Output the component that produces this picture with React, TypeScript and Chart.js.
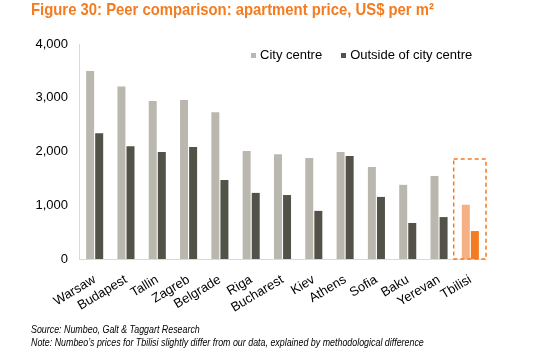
import React, { useEffect, useRef } from "react";
import { Chart, registerables } from "chart.js";

Chart.register(...registerables);

const categories = ["Warsaw", "Budapest", "Tallin", "Zagreb", "Belgrade", "Riga", "Bucharest", "Kiev", "Athens", "Sofia", "Baku", "Yerevan", "Tbilisi"];
const cityCentre = [3500, 3210, 2940, 2960, 2730, 2010, 1950, 1880, 1990, 1710, 1380, 1545, 1010];
const outsideCentre = [2340, 2100, 1990, 2085, 1470, 1230, 1190, 895, 1915, 1155, 670, 780, 520];
const yMin = 0;
const yMax = 4000;
const yStep = 1000;
const highlightCategory = "Tbilisi";
const highlightTop = 1860;

const seriesNames = ["City centre", "Outside of city centre"];
const titleText = "Figure 30: Peer comparison: apartment price, US$ per m\u00B2";
const sourceText = "Source: Numbeo, Galt & Taggart Research";
const noteText = "Note: Numbeo\u2019s prices for Tbilisi slightly differ from our data, explained by methodological difference";

const CITY = "#BAB8AE";
const OUTSIDE = "#535248";
const CITY_HL = "#F5B183";
const OUTSIDE_HL = "#F47B20";
const ORANGE = "#F47B20";

const highlightBox = {
  id: "highlightBox",
  afterDatasetsDraw(chart: any) {
    const xs = chart.scales.x;
    const ys = chart.scales.y;
    const idx = categories.indexOf(highlightCategory);
    const cx = xs.getPixelForValue(idx);
    const half = (xs.getPixelForValue(1) - xs.getPixelForValue(0)) / 2;
    const top = ys.getPixelForValue(highlightTop);
    const bottom = ys.getPixelForValue(0);
    const ctx = chart.ctx;
    ctx.save();
    ctx.strokeStyle = ORANGE;
    ctx.lineWidth = 1.5;
    ctx.setLineDash([4, 3]);
    ctx.strokeRect(cx - half - 1, top, half * 2 + 1, bottom - top);
    ctx.restore();
  },
};

export default function App() {
  const ref = useRef<HTMLCanvasElement | null>(null);

  useEffect(() => {
    if (!ref.current) return;
    const idx = categories.indexOf(highlightCategory);
    const chart = new Chart(ref.current, {
      type: "bar",
      data: {
        labels: categories,
        datasets: [
          {
            label: seriesNames[0],
            data: cityCentre,
            backgroundColor: categories.map((_, i) => (i === idx ? CITY_HL : CITY)),
            categoryPercentage: 0.58,
            barPercentage: 0.88,
          },
          {
            label: seriesNames[1],
            data: outsideCentre,
            backgroundColor: categories.map((_, i) => (i === idx ? OUTSIDE_HL : OUTSIDE)),
            categoryPercentage: 0.58,
            barPercentage: 0.88,
          },
        ],
      },
      options: {
        responsive: false,
        animation: false,
        devicePixelRatio: 1,
        layout: { padding: { top: 44, right: 53, bottom: 39, left: 0 } },
        plugins: { legend: { display: false }, tooltip: { enabled: false } },
        scales: {
          x: {
            grid: { display: false },
            border: { display: true, color: "#D9D9D9", width: 1 },
            ticks: {
              minRotation: 31,
              maxRotation: 31,
              autoSkip: false,
              color: "#000",
              padding: 5,
              font: { family: "'Liberation Sans', Arial, sans-serif", size: 13 },
            },
            afterFit(s: any) {
              s.height = 60;
            },
          },
          y: {
            min: yMin,
            max: yMax,
            grid: { display: false, drawTicks: false },
            border: { display: true, color: "#D9D9D9", width: 1 },
            ticks: {
              stepSize: yStep,
              color: "#000",
              padding: 11,
              font: { family: "'Liberation Sans', Arial, sans-serif", size: 13 },
              callback: (v: any) => Number(v).toLocaleString("en-US"),
            },
            afterFit(s: any) {
              s.width = 79;
            },
          },
        },
      },
      plugins: [highlightBox],
    });
    return () => chart.destroy();
  }, []);

  const legendItem = (color: string, text: string, gap: number) => (
    <span style={{ display: "inline-flex", alignItems: "center", marginRight: gap }}>
      <span style={{ display: "inline-block", width: 5, height: 5, background: color, marginRight: 4 }} />
      <span>{text}</span>
    </span>
  );

  return (
    <div style={{ position: "fixed", left: 0, top: 0, width: 539, height: 358, background: "#fff", overflow: "hidden" }}>
      <canvas ref={ref} width={539} height={358} style={{ position: "absolute", left: 0, top: 0 }} />
      <div
        style={{
          position: "absolute",
          left: 31,
          top: 0,
          whiteSpace: "nowrap",
          color: ORANGE,
          fontFamily: "'Liberation Sans', Arial, sans-serif",
          fontWeight: "bold",
          fontSize: 17,
          lineHeight: "20px",
          transform: "scaleX(0.874)",
          transformOrigin: "left top",
        }}
      >
        {titleText}
      </div>
      <div
        style={{
          position: "absolute",
          left: 251,
          top: 47,
          whiteSpace: "nowrap",
          color: "#000",
          fontFamily: "'Liberation Sans', Arial, sans-serif",
          fontSize: 13,
          lineHeight: "16px",
          display: "flex",
        }}
      >
        {legendItem(CITY, seriesNames[0], 19)}
        {legendItem(OUTSIDE, seriesNames[1], 0)}
      </div>
      <div
        style={{
          position: "absolute",
          left: 31,
          top: 323,
          whiteSpace: "nowrap",
          color: "#000",
          fontFamily: "'Liberation Sans', Arial, sans-serif",
          fontStyle: "italic",
          fontSize: 10,
          lineHeight: "13px",
          transform: "scaleX(0.887)",
          transformOrigin: "left top",
        }}
      >
        <div>{sourceText}</div>
        <div>{noteText}</div>
      </div>
    </div>
  );
}
